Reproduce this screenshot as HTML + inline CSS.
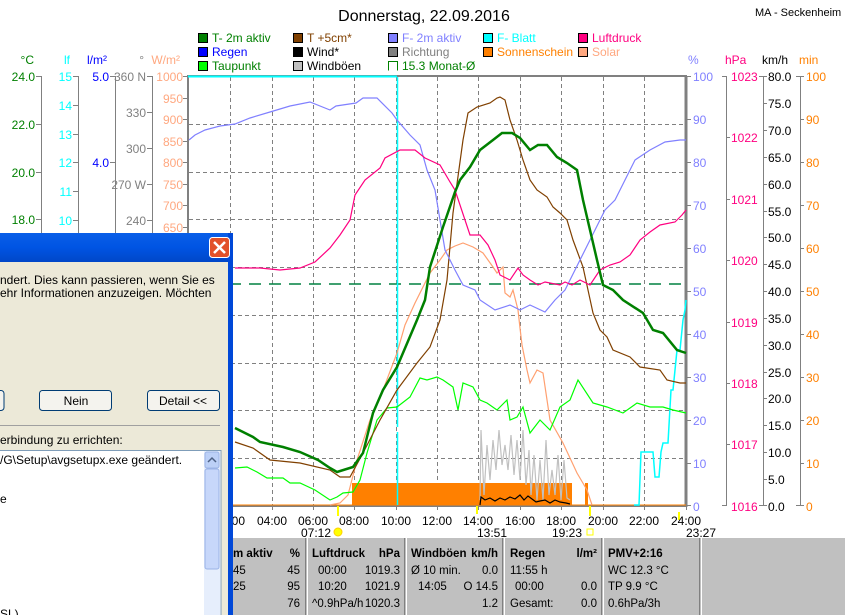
<!DOCTYPE html>
<html><head><meta charset="utf-8"><style>
html,body{margin:0;padding:0;background:#fff;width:845px;height:615px;overflow:hidden}
svg{display:block;font-family:"Liberation Sans",sans-serif}
</style></head><body>
<svg width="845" height="615" viewBox="0 0 845 615" xmlns="http://www.w3.org/2000/svg">
<rect width="845" height="615" fill="#fff"/>
<text x="424" y="21" font-size="16" text-anchor="middle">Donnerstag, 22.09.2016</text>
<text x="755" y="16" font-size="11">MA - Seckenheim</text>
<!-- legend -->
<g font-size="12">
<rect x="198.5" y="33.5" width="9" height="9" fill="#008000" stroke="#000"/><text x="212" y="42" fill="#008000">T- 2m aktiv</text>
<rect x="198.5" y="47.5" width="9" height="9" fill="#0000ff" stroke="#000"/><text x="212" y="56" fill="#0000ff">Regen</text>
<rect x="198.5" y="61.5" width="9" height="9" fill="#00ff00" stroke="#000"/><text x="212" y="70" fill="#008000">Taupunkt</text>
<rect x="293.5" y="33.5" width="9" height="9" fill="#804000" stroke="#000"/><text x="307" y="42" fill="#804000">T +5cm*</text>
<rect x="293.5" y="47.5" width="9" height="9" fill="#000" stroke="#000"/><text x="307" y="56">Wind*</text>
<rect x="293.5" y="61.5" width="9" height="9" fill="#c0c0c0" stroke="#000"/><text x="307" y="70">Windböen</text>
<rect x="388.5" y="33.5" width="9" height="9" fill="#8080ff" stroke="#000"/><text x="402" y="42" fill="#8080ff">F- 2m aktiv</text>
<rect x="388.5" y="47.5" width="9" height="9" fill="#808080" stroke="#000"/><text x="402" y="56" fill="#808080">Richtung</text>
<path d="M397.5 70.5V61.5H388.5V70.5" fill="none" stroke="#008000"/><text x="402" y="70" fill="#008000">15.3 Monat-Ø</text>
<rect x="483.5" y="33.5" width="9" height="9" fill="#00ffff" stroke="#000"/><text x="497" y="42" fill="#00ffff">F- Blatt</text>
<rect x="483.5" y="47.5" width="9" height="9" fill="#ff8000" stroke="#000"/><text x="497" y="56" fill="#ff8000">Sonnenschein</text>
<rect x="578.5" y="33.5" width="9" height="9" fill="#ff0080" stroke="#000"/><text x="592" y="42" fill="#ff0080">Luftdruck</text>
<rect x="578.5" y="47.5" width="9" height="9" fill="#ffa880" stroke="#000"/><text x="592" y="56" fill="#ffa880">Solar</text>
</g>
<!-- left axes -->
<g font-size="12" stroke="#808080">
<line x1="41.5" y1="76" x2="41.5" y2="506"/><line x1="78.5" y1="76" x2="78.5" y2="506"/><line x1="115.5" y1="76" x2="115.5" y2="506"/><line x1="152.5" y1="76" x2="152.5" y2="506"/>
<path d="M36 76.5h5M36 124.5h5M36 172.5h5M36 219.5h5M73 76.5h5M73 105.5h5M73 134.5h5M73 162.5h5M73 191.5h5M73 220.5h5M110 76.5h5M110 162.5h5M147 76.5h5M147 112.5h5M147 148.5h5M147 184.5h5M147 220.5h5"/>
<path d="M183 76.5h5M183 98.5h5M183 119.5h5M183 141.5h5M183 162.5h5M183 184.5h5M183 205.5h5M183 227.5h5"/>
</g>
<g font-size="12" text-anchor="end">
<text x="34" y="64" fill="#008000">°C</text><text x="70" y="64" fill="#00ffff">lf</text><text x="107" y="64" fill="#0000ff">l/m²</text><text x="144" y="64" fill="#808080">°</text><text x="180" y="64" fill="#ffa880">W/m²</text>
<g fill="#008000"><text x="35" y="81">24.0</text><text x="35" y="129">22.0</text><text x="35" y="177">20.0</text><text x="35" y="224">18.0</text></g>
<g fill="#00ffff"><text x="72" y="81">15</text><text x="72" y="110">14</text><text x="72" y="139">13</text><text x="72" y="167">12</text><text x="72" y="196">11</text><text x="72" y="225">10</text></g>
<g fill="#0000ff"><text x="109" y="81">5.0</text><text x="109" y="167">4.0</text></g>
<g fill="#808080"><text x="146" y="81">360 N</text><text x="146" y="117">330</text><text x="146" y="153">300</text><text x="146" y="189">270 W</text><text x="146" y="225">240</text></g>
<g fill="#ffa880"><text x="183" y="81">1000</text><text x="183" y="103">950</text><text x="183" y="124">900</text><text x="183" y="146">850</text><text x="183" y="167">800</text><text x="183" y="189">750</text><text x="183" y="210">700</text><text x="183" y="232">650</text></g>
</g>
<!-- grid -->
<g stroke="#808080" stroke-dasharray="4,3">
<path d="M230.5 77V506M272.5 77V506M313.5 77V506M354.5 77V506M396.5 77V506M437.5 77V506M478.5 77V506M520.5 77V506M561.5 77V506M603.5 77V506M644.5 77V506"/>
<path d="M189 124.5H686M189 172.5H686M189 219.5H686M189 267.5H686M189 315.5H686M189 363.5H686M189 410.5H686M189 458.5H686"/>
</g>
<rect x="188" y="76" width="498" height="430" fill="none" stroke="#808080" stroke-width="2"/>
<line x1="686" y1="76" x2="686" y2="507" stroke="#808080" stroke-width="3"/>
<line x1="188" y1="76.5" x2="397" y2="76.5" stroke="#00ffff" stroke-width="2"/>
<line x1="189" y1="284" x2="686" y2="284" stroke="#008040" stroke-width="1.5" stroke-dasharray="12,8"/>
<rect x="352" y="483" width="220" height="22" fill="#ff8000"/>
<rect x="585" y="483" width="3" height="22" fill="#ff8000"/>
<line x1="189" y1="505" x2="686" y2="505" stroke="#ff8000" stroke-width="1"/>
<polyline fill="none" stroke="#c0c0c0" stroke-width="1.2" points="480,500 481,430 484,495 487,445 490,480 493,440 496,470 499,430 502,465 505,445 508,470 511,435 514,475 517,440 520,480 523,430 526,485 529,450 531,495 534,455 537,500 540,460 543,500 546,440 549,495 552,470 555,495 558,455 561,500 564,460 567,498 570,500"/>
<polyline fill="none" stroke="#000" stroke-width="1.2" points="480,505 481,497 485,500 490,498 495,501 500,498 505,500 510,497 515,499 520,495 524,500 528,496 532,499 536,502 540,501 545,500 550,503 555,500 560,502 566,503 570,504"/>
<path d="M397.5 77V427M397.5 432V505" stroke="#00ffff" stroke-width="1.5" fill="none"/>
<polyline fill="none" stroke="#00ffff" stroke-width="1.5" points="634,505 639,505 641,452 653,452 655,477 659,477 661,452 663,443 668,443 671,390 673,390 677,350 680,350 683,320 685,310 686,300"/>
<polyline fill="none" stroke="#ffa070" stroke-width="1.2" points="330,505 340,503 348,495 357,460 370,420 383,390 397,353 405,325 415,303 430,273 440,260 447,250 455,246 463,243 473,247 483,253 488,260 493,267 497,273 503,267 505,293 510,297 513,290 518,310 520,328 522,345 527,370 530,383 537,370 543,373 550,420 563,443 577,473 587,490 592,505"/>
<polyline fill="none" stroke="#00ff00" stroke-width="1.2" points="235,468 247,467 257,472 267,478 283,478 290,483 300,483 315,490 330,500 337,497 343,493 353,492 360,480 367,453 377,420 387,408 397,407 410,397 420,378 427,380 437,377 443,380 453,387 458,410 463,383 473,387 480,400 487,403 497,410 507,400 510,420 517,417 523,407 530,433 540,420 550,430 560,407 570,400 578,380 593,403 607,407 623,413 637,403 650,407 663,407 673,410 686,413"/>
<polyline fill="none" stroke="#804000" stroke-width="1.2" points="235,442 253,448 270,460 300,463 330,470 340,477 350,477 363,453 380,420 397,390 417,363 430,347 440,320 447,280 453,213 463,140 468,113 477,107 490,103 497,98 500,97 505,100 510,120 517,140 523,160 530,180 537,190 547,197 553,207 560,213 567,220 573,240 583,267 593,313 600,330 607,337 613,350 630,357 640,367 660,370 667,380 680,383 686,383"/>
<polyline fill="none" stroke="#8080ff" stroke-width="1.2" points="189,140 195,135 205,130 220,126 235,124 250,118 270,112 290,106 310,102 330,110 336,106 356,103 363,98 377,98 392,113 397,120 410,135 420,145 427,170 435,190 440,220 445,250 455,270 463,285 475,290 480,300 495,310 510,305 520,310 530,305 545,312 555,300 565,290 575,270 585,250 595,230 605,210 615,200 625,180 635,160 650,150 665,142 680,140 686,140"/>
<polyline fill="none" stroke="#ff0080" stroke-width="1.2" points="235,268 260,268 280,270 300,268 315,262 330,248 340,235 350,220 355,195 365,180 380,168 385,158 400,150 415,150 425,158 440,165 450,182 455,190 460,205 465,220 470,235 480,235 488,245 495,260 500,275 510,280 518,268 523,275 530,280 538,285 545,282 560,285 565,282 572,285 580,280 590,285 600,270 610,265 620,262 630,255 640,240 650,232 660,225 675,222 682,215 686,210"/>
<polyline fill="none" stroke="#008000" stroke-width="2.5" points="235,428 253,437 260,442 283,447 300,452 318,460 330,468 337,472 353,467 363,453 373,413 383,390 397,367 417,320 425,300 430,267 443,227 455,192 460,180 470,167 480,150 493,140 502,133 512,133 520,138 530,150 538,145 547,145 557,157 567,163 577,170 583,200 590,230 597,260 603,285 613,290 623,300 643,313 653,330 663,333 677,350 686,353"/>
<g stroke="#808080">
<line x1="726.5" y1="76" x2="726.5" y2="506"/><line x1="763.5" y1="76" x2="763.5" y2="506"/><line x1="800.5" y1="76" x2="800.5" y2="506"/>
<path d="M686 76.5h5M686 119.5h5M686 162.5h5M686 205.5h5M686 248.5h5M686 291.5h5M686 334.5h5M686 377.5h5M686 420.5h5M686 463.5h5M686 505.5h5"/>
<path d="M722 76.5h4M726 137.5h4M726 199.5h4M726 260.5h4M726 322.5h4M726 383.5h4M726 444.5h4M722 505.5h4"/>
<path d="M759 76.5h8M763 103.5h4M763 130.5h4M763 157.5h4M763 184.5h4M763 211.5h4M763 237.5h4M763 264.5h4M763 291.5h4M763 318.5h4M763 345.5h4M763 372.5h4M763 398.5h4M763 425.5h4M763 452.5h4M763 479.5h4M759 505.5h8"/>
<path d="M796 76.5h8M800 119.5h4M800 162.5h4M800 205.5h4M800 248.5h4M800 291.5h4M800 334.5h4M800 377.5h4M800 420.5h4M800 463.5h4M796 505.5h8"/>
</g>
<g font-size="12">
<text x="688" y="64" fill="#8080ff">%</text><text x="725" y="64" fill="#ff0080">hPa</text><text x="762" y="64">km/h</text><text x="799" y="64" fill="#ff8000">min</text>
<g fill="#8080ff"><text x="693" y="81">100</text><text x="693" y="124">90</text><text x="693" y="167">80</text><text x="693" y="210">70</text><text x="693" y="253">60</text><text x="693" y="296">50</text><text x="693" y="339">40</text><text x="693" y="382">30</text><text x="693" y="425">20</text><text x="693" y="468">10</text><text x="693" y="511">0</text></g>
<g fill="#ff0080"><text x="731" y="81">1023</text><text x="731" y="142">1022</text><text x="731" y="204">1021</text><text x="731" y="265">1020</text><text x="731" y="327">1019</text><text x="731" y="388">1018</text><text x="731" y="449">1017</text><text x="731" y="511">1016</text></g>
<g fill="#000"><text x="768" y="81">80.0</text><text x="768" y="108">75.0</text><text x="768" y="135">70.0</text><text x="768" y="162">65.0</text><text x="768" y="189">60.0</text><text x="768" y="216">55.0</text><text x="768" y="242">50.0</text><text x="768" y="269">45.0</text><text x="768" y="296">40.0</text><text x="768" y="323">35.0</text><text x="768" y="350">30.0</text><text x="768" y="377">25.0</text><text x="768" y="403">20.0</text><text x="768" y="430">15.0</text><text x="768" y="457">10.0</text><text x="768" y="484">5.0</text><text x="768" y="511">0.0</text></g>
<g fill="#ff8000"><text x="806" y="81">100</text><text x="806" y="124">90</text><text x="806" y="167">80</text><text x="806" y="210">70</text><text x="806" y="253">60</text><text x="806" y="296">50</text><text x="806" y="339">40</text><text x="806" y="382">30</text><text x="806" y="425">20</text><text x="806" y="468">10</text><text x="806" y="511">0</text></g>
</g>
<g stroke="#808080"><path d="M230.5 506v4M272.5 506v4M313.5 506v4M354.5 506v4M396.5 506v4M437.5 506v4M478.5 506v4M520.5 506v4M561.5 506v4M603.5 506v4M644.5 506v4M686.5 506v4"/></g>
<g stroke="#ffff00" stroke-width="2"><path d="M338 506v10M590 506v10M477 506v8M679 512v8"/></g>
<g font-size="12" text-anchor="middle">
<text x="230" y="525">02:00</text><text x="272" y="525">04:00</text><text x="313" y="525">06:00</text><text x="354" y="525">08:00</text><text x="396" y="525">10:00</text><text x="437" y="525">12:00</text><text x="478" y="525">14:00</text><text x="520" y="525">16:00</text><text x="561" y="525">18:00</text><text x="603" y="525">20:00</text><text x="644" y="525">22:00</text><text x="686" y="525">24:00</text>
<text x="316" y="537">07:12</text><text x="492" y="537">13:51</text><text x="567" y="537">19:23</text><text x="701" y="537">23:27</text>
</g>
<circle cx="338" cy="532" r="4" fill="#ffff00" stroke="#ffd000"/>
<rect x="587" y="529" width="6" height="6" fill="none" stroke="#ffff00"/>
<rect x="233" y="538" width="612" height="77" fill="#c0c0c0"/>
<g stroke="#fff"><path d="M307.5 538V615M406.5 538V615M504.5 538V615M603.5 538V615M701.5 538V615"/></g>
<g stroke="#808080"><path d="M305.5 538V615M404.5 538V615M502.5 538V615M601.5 538V615M699.5 538V615"/></g>
<g font-size="11.5">
<g font-weight="bold"><text x="233" y="557">m aktiv</text><text x="300" y="557" text-anchor="end">%</text>
<text x="312" y="557">Luftdruck</text><text x="400" y="557" text-anchor="end">hPa</text>
<text x="411" y="557">Windböen</text><text x="498" y="557" text-anchor="end">km/h</text>
<text x="510" y="557">Regen</text><text x="597" y="557" text-anchor="end">l/m²</text>
<text x="608" y="557">PMV+2:16</text></g>
<text x="233" y="574">45</text><text x="300" y="574" text-anchor="end">45</text>
<text x="233" y="590">25</text><text x="300" y="590" text-anchor="end">95</text>
<text x="300" y="607" text-anchor="end">76</text>
<text x="318" y="574">00:00</text><text x="400" y="574" text-anchor="end">1019.3</text>
<text x="318" y="590">10:20</text><text x="400" y="590" text-anchor="end">1021.9</text>
<text x="312" y="607">^0.9hPa/h</text><text x="400" y="607" text-anchor="end">1020.3</text>
<text x="411" y="574">Ø 10 min.</text><text x="498" y="574" text-anchor="end">0.0</text>
<text x="418" y="590">14:05</text><text x="498" y="590" text-anchor="end">O 14.5</text>
<text x="498" y="607" text-anchor="end">1.2</text>
<text x="510" y="574">11:55 h</text>
<text x="515" y="590">00:00</text><text x="597" y="590" text-anchor="end">0.0</text>
<text x="510" y="607">Gesamt:</text><text x="597" y="607" text-anchor="end">0.0</text>
<text x="608" y="574">WC 12.3 °C</text><text x="608" y="590">TP 9.9 °C</text><text x="608" y="607">0.6hPa/3h</text>
</g>
<rect x="0" y="233" width="233" height="382" fill="#ece9d8"/>
<defs><linearGradient id="tb" x1="0" y1="0" x2="0" y2="1"><stop offset="0" stop-color="#0a5fe8"/><stop offset="0.5" stop-color="#0054e3"/><stop offset="1" stop-color="#0047c8"/></linearGradient></defs>
<rect x="0" y="233" width="233" height="29" fill="url(#tb)"/>
<rect x="228" y="233" width="5" height="382" fill="#0048d8"/>
<rect x="209.5" y="237.5" width="20" height="20" rx="3" fill="#e2512a" stroke="#fff"/>
<path d="M214 242l11 11M225 242l-11 11" stroke="#fff" stroke-width="2.5"/>
<g font-size="12">
<text x="0" y="284">ndert. Dies kann passieren, wenn Sie es</text>
<text x="0" y="297">ehr Informationen anzuzeigen. Möchten</text>
</g>
<rect x="-5" y="390.5" width="9" height="20" rx="3" fill="#f4f3ee" stroke="#003c74"/>
<rect x="39.5" y="390.5" width="72" height="20" rx="3" fill="#f4f3ee" stroke="#003c74"/>
<rect x="147.5" y="390.5" width="72" height="20" rx="3" fill="#f4f3ee" stroke="#003c74"/>
<g font-size="12" text-anchor="middle"><text x="76" y="405">Nein</text><text x="183" y="405">Detail &lt;&lt;</text></g>
<line x1="0" y1="425.5" x2="220" y2="425.5" stroke="#a0a0a0"/>
<text x="0" y="444" font-size="12">erbindung zu errichten:</text>
<rect x="-1" y="450.5" width="222" height="170" fill="#fff" stroke="#7f9db9"/>
<rect x="204" y="451" width="16" height="164" fill="#e6eefc"/>
<rect x="205" y="452" width="14" height="16" rx="2" fill="#bcd0f7" stroke="#9bb3e6"/>
<path d="M208 462l4-4 4 4" stroke="#4d6185" stroke-width="1.5" fill="none"/>
<rect x="205" y="469" width="14" height="100" rx="2" fill="#c7d7fa" stroke="#9bb3e6"/>
<g font-size="12"><text x="0" y="464">/G\Setup\avgsetupx.exe geändert.</text><text x="0" y="503">e</text><text x="0" y="618">SL)</text></g>
</svg>
</body></html>
